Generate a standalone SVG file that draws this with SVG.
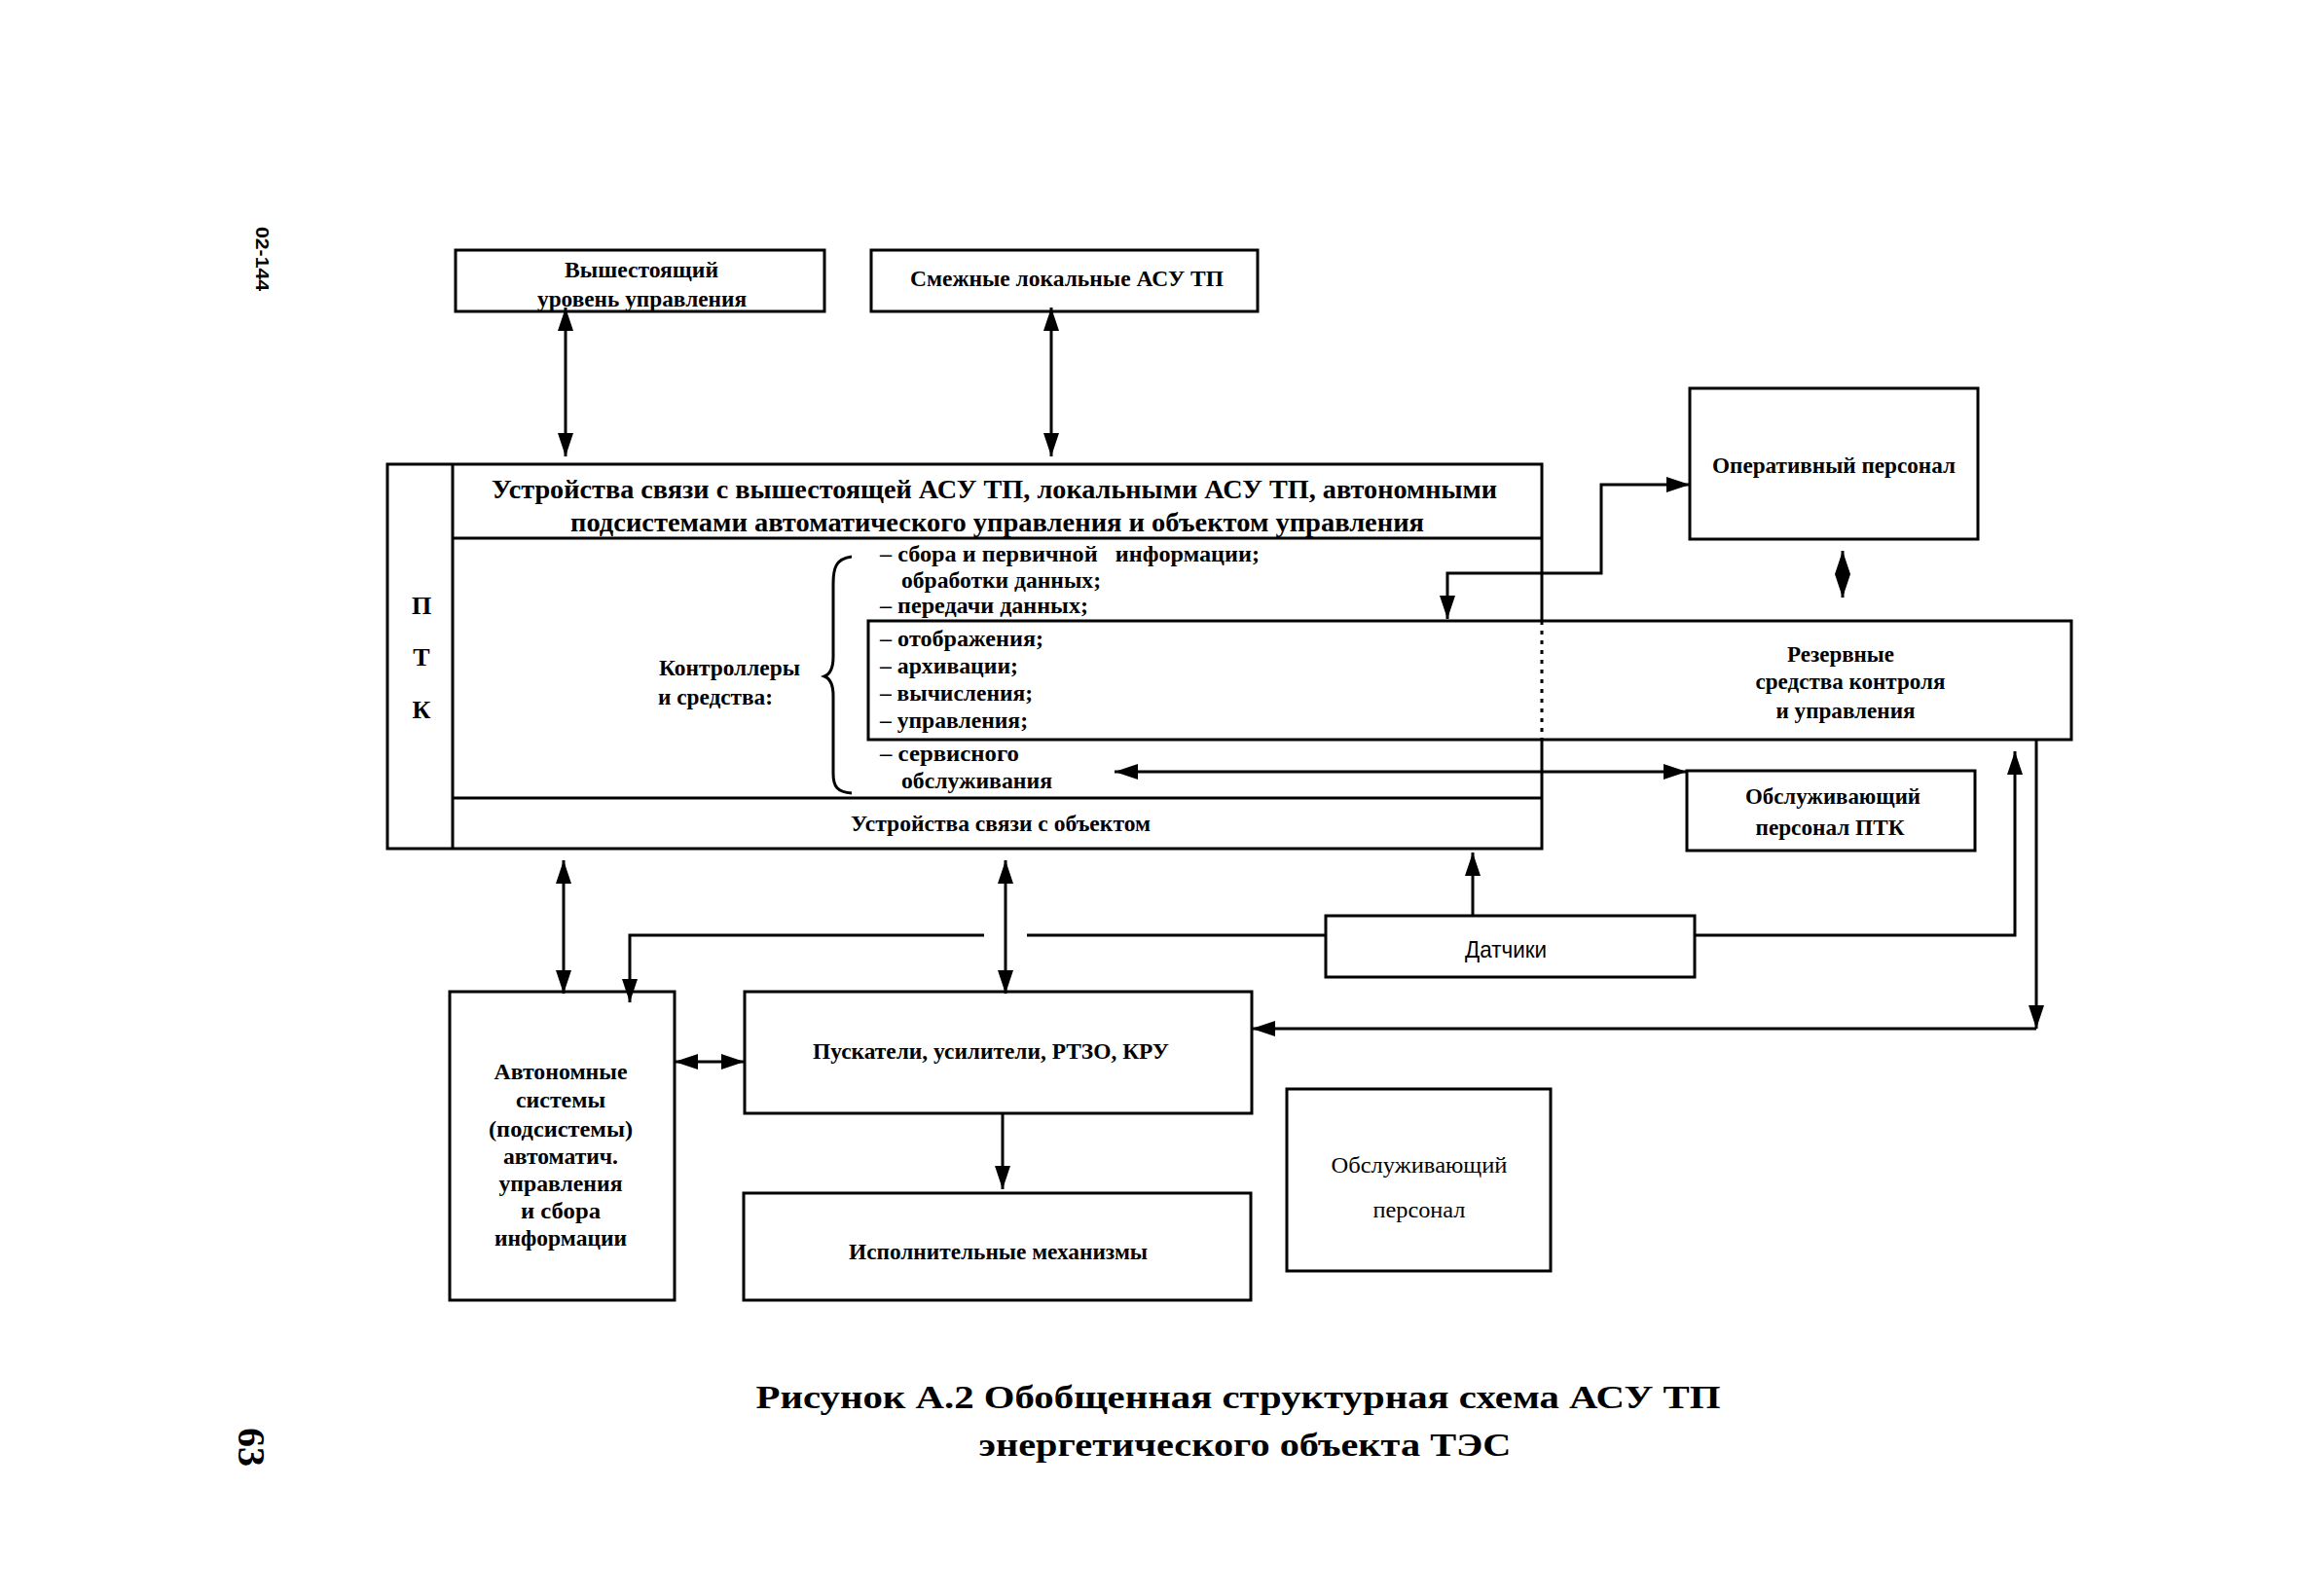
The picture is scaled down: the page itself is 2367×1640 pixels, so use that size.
<svg xmlns="http://www.w3.org/2000/svg" width="2367" height="1640" viewBox="0 0 2367 1640">
<defs>
<style>
.bx{fill:none;stroke:#000;stroke-width:3}
.ln{fill:none;stroke:#000;stroke-width:3}
.t{font-family:"Liberation Serif","Times New Roman",serif;font-weight:bold;font-size:23px;fill:#000}
.hd{font-size:28px}
.rg{font-family:"Liberation Serif","Times New Roman",serif;font-weight:normal;font-size:24px;fill:#000}
.sn{font-family:"Liberation Sans",Arial,sans-serif;font-weight:normal;font-size:24px;fill:#000}
.cap{font-family:"Liberation Serif","Times New Roman",serif;font-weight:bold;font-size:34px;fill:#000}
.m{text-anchor:middle}
</style>
<marker id="ah" markerUnits="userSpaceOnUse" markerWidth="24" markerHeight="16" refX="24" refY="8" orient="auto-start-reverse" viewBox="0 0 24 16">
<path d="M0,0 L24,8 L0,16 z" fill="#000"/>
</marker>
</defs>
<rect width="2367" height="1640" fill="#fff"/>

<g id="page-marks">
<text class="sn" style="font-size:18px;font-weight:bold" text-anchor="middle" transform="translate(263,266) rotate(90)" textLength="66" lengthAdjust="spacingAndGlyphs">02-144</text>
<text class="cap" style="font-size:40px" text-anchor="middle" transform="translate(245,1487) rotate(90)">63</text>
</g>

<g id="n-upper">
<rect class="bx" x="468" y="257" width="379" height="63"/>
<text class="t" x="580" y="285" textLength="158" lengthAdjust="spacingAndGlyphs">Вышестоящий</text>
<text class="t" x="552" y="315" textLength="215" lengthAdjust="spacingAndGlyphs">уровень управления</text>
</g>

<g id="n-adjacent">
<rect class="bx" x="895" y="257" width="397" height="63"/>
<text class="t" x="935" y="294" textLength="322" lengthAdjust="spacingAndGlyphs">Смежные локальные АСУ ТП</text>
</g>

<g id="n-ptk">
<path class="bx" d="M1584,638 V477 H398 V872 H1584 V760"/>
<path class="ln" d="M1584,638 V760" stroke-dasharray="4,6" stroke-width="2.5"/>
<path class="ln" d="M465,477 V872 M465,553 H1584 M465,820 H1584"/>
<text class="t m" style="font-size:26px" x="433" y="631">П</text>
<text class="t m" style="font-size:26px" x="433" y="684">Т</text>
<text class="t m" style="font-size:26px" x="433" y="738">К</text>
<text class="t hd" x="505" y="512" textLength="1033" lengthAdjust="spacingAndGlyphs">Устройства связи с вышестоящей АСУ ТП, локальными АСУ ТП, автономными</text>
<text class="t hd" x="586" y="546" textLength="877" lengthAdjust="spacingAndGlyphs">подсистемами автоматического управления и объектом управления</text>
<text class="t" x="677" y="694" textLength="145" lengthAdjust="spacingAndGlyphs">Контроллеры</text>
<text class="t" x="676" y="724" textLength="118" lengthAdjust="spacingAndGlyphs">и средства:</text>
<path class="ln" stroke-width="2.5" d="M875,572 C858,574 856,585 856,600 L856,675 C856,688 852,693 847,695 C852,697 856,702 856,715 L856,795 C856,808 860,814 875,815"/>
<text class="t" x="904" y="577" textLength="390" lengthAdjust="spacingAndGlyphs" xml:space="preserve">– сбора и первичной   информации;</text>
<text class="t" x="926" y="604" textLength="205" lengthAdjust="spacingAndGlyphs">обработки данных;</text>
<text class="t" x="904" y="630" textLength="214" lengthAdjust="spacingAndGlyphs">– передачи данных;</text>
<text class="t" x="904" y="664" textLength="168" lengthAdjust="spacingAndGlyphs">– отображения;</text>
<text class="t" x="904" y="692" textLength="142" lengthAdjust="spacingAndGlyphs">– архивации;</text>
<text class="t" x="904" y="720" textLength="157" lengthAdjust="spacingAndGlyphs">– вычисления;</text>
<text class="t" x="904" y="748" textLength="152" lengthAdjust="spacingAndGlyphs">– управления;</text>
<text class="t" x="904" y="782" textLength="143" lengthAdjust="spacingAndGlyphs">– сервисного</text>
<text class="t" x="926" y="810" textLength="155" lengthAdjust="spacingAndGlyphs">обслуживания</text>
<text class="t" x="874" y="854" textLength="308" lengthAdjust="spacingAndGlyphs">Устройства связи с объектом</text>
</g>

<g id="n-reserve">
<path class="bx" d="M1584,638 H2128 V760 H1584 M1584,760 H892 V638 H1584"/>
<text class="t m" x="1891" y="680" textLength="110" lengthAdjust="spacingAndGlyphs">Резервные</text>
<text class="t m" x="1901" y="708" textLength="195" lengthAdjust="spacingAndGlyphs">средства контроля</text>
<text class="t m" x="1896" y="738" textLength="143" lengthAdjust="spacingAndGlyphs">и управления</text>
</g>

<g id="n-operative">
<rect class="bx" x="1736" y="399" width="296" height="155"/>
<text class="t" x="1759" y="486" textLength="250" lengthAdjust="spacingAndGlyphs">Оперативный персонал</text>
</g>

<g id="n-service-ptk">
<rect class="bx" x="1733" y="792" width="296" height="82"/>
<text class="t m" x="1883" y="826" textLength="180" lengthAdjust="spacingAndGlyphs">Обслуживающий</text>
<text class="t m" x="1880" y="858" textLength="153" lengthAdjust="spacingAndGlyphs">персонал ПТК</text>
</g>

<g id="n-sensors">
<rect class="bx" x="1362" y="941" width="379" height="63"/>
<text class="sn m" x="1547" y="984" textLength="84" lengthAdjust="spacingAndGlyphs">Датчики</text>
</g>

<g id="n-autonomous">
<rect class="bx" x="462" y="1019" width="231" height="317"/>
<text class="t m" x="576" y="1109" textLength="137" lengthAdjust="spacingAndGlyphs">Автономные</text>
<text class="t m" x="576" y="1138" textLength="92" lengthAdjust="spacingAndGlyphs">системы</text>
<text class="t m" x="576" y="1168" textLength="148" lengthAdjust="spacingAndGlyphs">(подсистемы)</text>
<text class="t m" x="576" y="1196" textLength="118" lengthAdjust="spacingAndGlyphs">автоматич.</text>
<text class="t m" x="576" y="1224" textLength="127" lengthAdjust="spacingAndGlyphs">управления</text>
<text class="t m" x="576" y="1252" textLength="82" lengthAdjust="spacingAndGlyphs">и сбора</text>
<text class="t m" x="576" y="1280" textLength="136" lengthAdjust="spacingAndGlyphs">информации</text>
</g>

<g id="n-starters">
<rect class="bx" x="765" y="1019" width="521" height="125"/>
<text class="t" x="835" y="1088" textLength="366" lengthAdjust="spacingAndGlyphs">Пускатели, усилители, РТЗО, КРУ</text>
</g>

<g id="n-actuators">
<rect class="bx" x="764" y="1226" width="521" height="110"/>
<text class="t" x="872" y="1294" textLength="307" lengthAdjust="spacingAndGlyphs">Исполнительные механизмы</text>
</g>

<g id="n-service">
<rect class="bx" x="1322" y="1119" width="271" height="187"/>
<text class="rg m" x="1458" y="1205" textLength="181" lengthAdjust="spacingAndGlyphs">Обслуживающий</text>
<text class="rg m" x="1458" y="1251" textLength="95" lengthAdjust="spacingAndGlyphs">персонал</text>
</g>

<g id="connectors">
<path class="ln" d="M581,316 V469" marker-start="url(#ah)" marker-end="url(#ah)"/>
<path class="ln" d="M1080,316 V469" marker-start="url(#ah)" marker-end="url(#ah)"/>
<path class="ln" d="M1487,636 V589 H1645 V498 H1736" marker-start="url(#ah)" marker-end="url(#ah)"/>
<path class="ln" d="M1893,566 V614" marker-start="url(#ah)" marker-end="url(#ah)"/>
<path class="ln" d="M1145,793 H1733" marker-start="url(#ah)" marker-end="url(#ah)"/>
<path class="ln" d="M1513,941 V876" marker-end="url(#ah)"/>
<path class="ln" d="M1362,961 H1055"/>
<path class="ln" d="M1011,961 H647 V1030" marker-end="url(#ah)"/>
<path class="ln" d="M1741,961 H2070 V772" marker-end="url(#ah)"/>
<path class="ln" d="M2092,760 V1057" marker-end="url(#ah)"/>
<path class="ln" d="M2092,1057 H1286" marker-end="url(#ah)"/>
<path class="ln" d="M579,884 V1021" marker-start="url(#ah)" marker-end="url(#ah)"/>
<path class="ln" d="M1033,884 V1021" marker-start="url(#ah)" marker-end="url(#ah)"/>
<path class="ln" d="M693,1091 H765" marker-start="url(#ah)" marker-end="url(#ah)"/>
<path class="ln" d="M1030,1144 V1222" marker-end="url(#ah)"/>
</g>

<g id="caption">
<text class="cap m" x="1272" y="1447" textLength="991" lengthAdjust="spacingAndGlyphs">Рисунок А.2 Обобщенная структурная схема АСУ ТП</text>
<text class="cap m" x="1279" y="1496" textLength="547" lengthAdjust="spacingAndGlyphs">энергетического объекта ТЭС</text>
</g>
</svg>
